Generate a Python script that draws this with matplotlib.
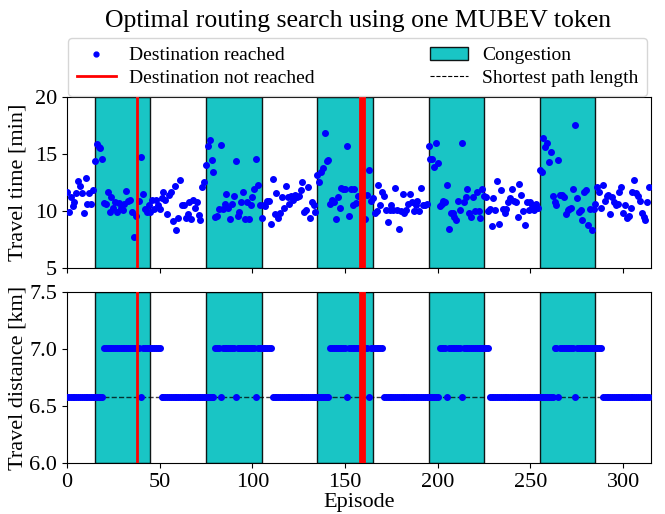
import numpy as np
import matplotlib
matplotlib.use("Agg")
import matplotlib.pyplot as plt
from matplotlib.lines import Line2D
from matplotlib.patches import Patch

plt.rcParams['font.family'] = ['Liberation Serif', 'DejaVu Serif']
plt.rcParams['mathtext.fontset'] = 'stix'

nan = np.nan
S = 6.58   # shortest path length [km]
L = 7.01   # detour length [km]

travel_time = [
    11.7, 9.9, 11.2, 10.4, 10.8, 11.6, 12.6, 12.2, 11.6, 9.8, 12.9, 10.6, 11.6, 10.6, 11.8,
    14.4, 15.9, 15.6, 15.5, 14.6, 10.7, 10.6, 11.7, 9.9, 11.2, 10.3, 10.8, 9.9, 10.7, 10.3,
    10.1, 10.6, 11.75, 10.85, 11.0, 9.9, 7.75, 9.6, nan, 10.9, 14.7, 11.5, 10.2, 9.9, 10.5,
    9.9, 11.0, 10.2, 11.0, 10.5, 10.2, 11.1, 11.7, 11.0, 9.7, 11.4, 11.7, 9.1, 12.2, 8.3,
    9.4, 12.7, 10.5, 10.5, 9.4, 9.7, 10.8, 9.3, 11.0, 10.3, 10.8, 9.65, 9.2, 12.1, 12.5,
    14.0, 15.7, 16.2, 14.5, 13.4, 9.5, 9.6, 10.2, 15.8, 10.2, 10.6, 11.5, 10.3, 9.3, 10.6,
    11.3, 14.4, 9.6, 9.9, 10.8, 11.7, 9.3, 10.8, 9.3, 10.5, 11.2, 11.9, 14.6, 12.3, 10.5,
    9.4, 10.5, 10.4, 10.9, 10.9, 8.9, 12.8, 9.7, 11.6, 9.4, 9.8, 11.2, 10.3, 12.2, 11.2,
    10.6, 11.3, 11.0, 11.4, 11.2, 11.3, 11.8, 12.5, 9.9, 10.1, 12.1, 9.4, 10.8, 10.5, 9.95,
    13.2, 12.5, 13.4, 13.8, 16.8, 14.4, 14.5, 10.6, 11.0, 10.8, 9.3, 11.2, 10.3, 12.0, 11.9,
    11.9, 15.7, 9.6, 11.9, 10.5, 11.9, 10.7, 11.3, nan, nan, nan, 9.3, 11.4, 13.6, 10.9,
    11.1, 9.8, 10.0, 12.3, 10.5, 11.7, 11.3, 10.1, 9.0, 10.1, 10.5, 10.1, 12.0, 10.1, 8.4,
    10.0, 11.5, 9.8, 10.1, 10.6, 11.5, 10.8, 10.0, 10.5, 10.9, 10.0, 12.0, 10.5, 10.5, 10.6,
    15.7, 14.6, 14.6, 13.9, 16.0, 14.2, 10.4, 10.6, 10.9, 10.8, 12.3, 8.4, 9.8, 9.8, 9.5,
    9.2, 10.9, 10.1, 16.0, 10.8, 11.2, 11.9, 9.8, 9.5, 11.2, 10.0, 11.7, 10.0, 9.4, 11.9,
    11.3, 11.2, 10.0, 10.2, 8.7, 11.1, 10.1, 12.6, 8.9, 11.8, 10.2, 9.8, 10.2, 10.8, 11.1,
    11.9, 10.9, 10.8, 9.5, 12.4, 11.4, 10.0, 8.8, 10.8, 10.1, 10.8, 10.5, 10.1, 10.6, 10.3,
    13.6, 13.4, 16.4, 15.6, 16.0, 14.3, 15.2, 11.3, 10.8, 10.5, 14.5, 11.4, 11.4, 11.2, 9.7,
    10.1, 10.2, 10.3, 11.9, 17.5, 11.1, 9.9, 10.1, 9.2, 11.7, 11.8, 8.8, 10.2, 8.3, 10.2,
    10.6, 12.1, 11.7, 10.3, 12.3, 10.9, 11.3, 11.4, 9.7, 11.2, 10.8, 10.5, 10.6, 11.7, 12.1,
    9.8, 10.5, 9.4, 9.6, 10.3, 11.7, 12.7, 11.6, 11.3, 10.9, 9.8, 9.5, 9.2, 10.8, 12.1,
]

travel_distance = [
    S, S, S, S, S, S, S, S, S, S, S, S, S, S, S,
    S, S, S, S, S, L, L, L, L, L, L, L, L, L, L,
    L, L, L, L, L, L, L, L, nan, L, S, L, L, L, L,
    L, L, L, L, L, L, S, S, S, S, S, S, S, S, S,
    S, S, S, S, S, S, S, S, S, S, S, S, S, S, S,
    S, S, S, S, S, L, L, L, S, L, L, L, L, L, L,
    L, S, L, L, L, L, L, L, L, L, L, L, S, L, L,
    L, L, L, L, L, L, S, S, S, S, S, S, S, S, S,
    S, S, S, S, S, S, S, S, S, S, S, S, S, S, S,
    S, S, S, S, S, S, S, L, L, L, L, L, L, L, L,
    L, S, L, L, L, L, L, L, nan, nan, nan, L, L, S, L,
    L, L, L, L, L, L, S, S, S, S, S, S, S, S, S,
    S, S, S, S, S, S, S, S, S, S, S, S, S, S, S,
    S, S, S, S, S, S, L, L, L, L, S, L, L, L, L,
    L, L, L, S, L, L, L, L, L, L, L, L, L, L, L,
    L, L, L, S, S, S, S, S, S, S, S, S, S, S, S,
    S, S, S, S, S, S, S, S, S, S, S, S, S, S, S,
    S, S, S, S, S, S, S, S, L, L, S, L, L, L, L,
    L, L, L, L, S, L, L, L, L, L, L, L, L, L, L,
    L, L, L, L, S, S, S, S, S, S, S, S, S, S, S,
    S, S, S, S, S, S, S, S, S, S, S, S, S, S, S,
]

episodes = np.arange(len(travel_time))
congestion_start = [15, 75, 135, 195, 255]
congestion_end = [45, 105, 165, 225, 285]
failed_episodes = [38, 158, 159, 160]
shortest_path = S

fig = plt.figure(figsize=(6.65, 5.14), dpi=100)
W, H = 665, 514
ax1 = fig.add_axes([67 / W, 1 - 268 / H, 584 / W, 171 / H])
ax2 = fig.add_axes([67 / W, 1 - 463 / H, 584 / W, 171 / H], sharex=ax1)

for ax in (ax1, ax2):
    for s, e in zip(congestion_start, congestion_end):
        ax.axvspan(s, e, facecolor='c', edgecolor='k', alpha=0.9, lw=1, zorder=1)
    for f in failed_episodes:
        ax.axvline(f, color='r', lw=2, zorder=4)

ax1.plot(episodes, travel_time, 'o', color='b', ms=4, zorder=3)
ax2.axhline(shortest_path, color='k', ls='--', lw=1, alpha=0.75, zorder=2)
ax2.plot(episodes, travel_distance, 'o', color='b', ms=4, zorder=3)

ax1.set_xlim(0, 315)
ax1.set_ylim(5, 20)
ax1.set_yticks([5, 10, 15, 20])
ax2.set_ylim(6.0, 7.5)
ax2.set_yticks([6.0, 6.5, 7.0, 7.5])
ax2.set_xticks([0, 50, 100, 150, 200, 250, 300])
ax1.tick_params(labelbottom=False, labelsize=16)
ax2.tick_params(labelsize=16)

ax1.set_ylabel('Travel time [min]', fontsize=16)
ax2.set_ylabel('Travel distance [km]', fontsize=16)
ax1.yaxis.set_label_coords(-0.068, 0.5)
ax2.yaxis.set_label_coords(-0.068, 0.5)
ax2.set_xlabel('Episode', fontsize=16, labelpad=1)

fig.text(358 / W, 1 - 21 / H, 'Optimal routing search using one MUBEV token',
         ha='center', va='center', fontsize=18.5)

handles = [
    Line2D([], [], marker='o', color='b', ls='', ms=3.5, label='Destination reached'),
    Line2D([], [], color='r', lw=2, label='Destination not reached'),
    Patch(facecolor='c', edgecolor='k', alpha=0.9, label='Congestion'),
    Line2D([], [], color='k', ls='--', lw=0.8, label='Shortest path length'),
]
fig.legend(handles=handles, loc='upper left', ncol=2,
           bbox_to_anchor=(68 / W, 1 - 38 / H),
           borderaxespad=0, fontsize=14, handletextpad=0.7,
           labelspacing=0.25, borderpad=0.45, columnspacing=5.9)

fig.savefig('out.png', dpi=100)
